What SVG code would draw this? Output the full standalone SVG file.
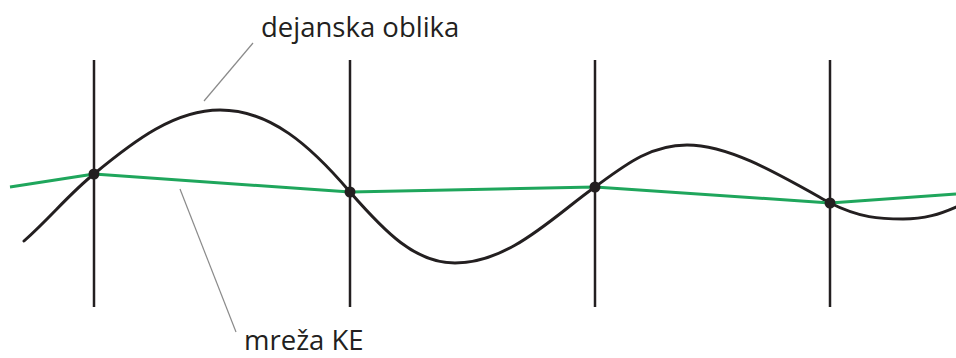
<svg xmlns="http://www.w3.org/2000/svg" width="956" height="358" viewBox="0 0 956 358">
<style>
.grid{stroke:#231f20;stroke-width:2.5;fill:none}
.shape{stroke:#231f20;stroke-width:3;fill:none;stroke-linecap:round}
.mesh{stroke:#1fa65c;stroke-width:3;fill:none;stroke-linejoin:round}
.lead{stroke:#8a8a8a;stroke-width:1.2;fill:none}
.node{fill:#231f20}
.lbl{font-family:"Open Sans","Noto Sans",sans-serif;font-size:27.5px;fill:#231f20}
</style>
<rect width="956" height="358" fill="#fff"/>
<g id="grid">
<line class="grid" x1="94" y1="60" x2="94" y2="307"/>
<line class="grid" x1="350" y1="60" x2="350" y2="307"/>
<line class="grid" x1="595" y1="60" x2="595" y2="307"/>
<line class="grid" x1="830" y1="60" x2="830" y2="307"/>
</g>
<g id="connectors">
<path class="shape" d="M24,241 C50,218 70,193 94,174 C135,140 175,110 220,110 C270,110 310,145 350,192 C385,232 415,263 455,263 C510,263 555,215 595,187 C625,165 650,145 687,145 C730,145 780,175 830,203 C860,218 880,219 903,219 C925,219 940,214 956,207"/>
<polyline class="mesh" points="10,187 94,174 350,192 595,187 830,203 956,194"/>
<line class="lead" x1="253" y1="43" x2="204" y2="101"/>
<line class="lead" x1="180" y1="189" x2="236" y2="332"/>
</g>
<g id="n1"><circle class="node" cx="94" cy="174" r="5.5"/></g>
<g id="n2"><circle class="node" cx="350" cy="192" r="5.5"/></g>
<g id="n3"><circle class="node" cx="595" cy="187" r="5.5"/></g>
<g id="n4"><circle class="node" cx="830" cy="203" r="5.5"/></g>
<g id="label-shape"><text class="lbl" x="261" y="37">dejanska oblika</text></g>
<g id="label-mesh"><text class="lbl" x="244" y="350">mreža KE</text></g>
</svg>
